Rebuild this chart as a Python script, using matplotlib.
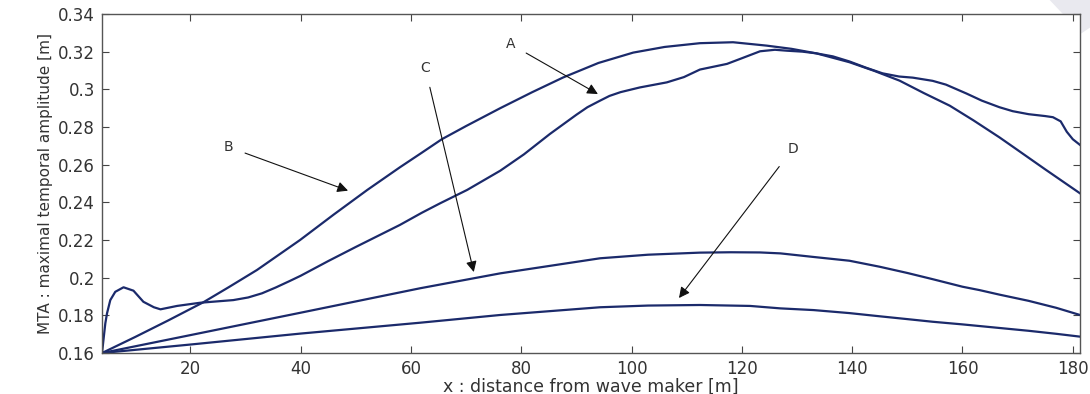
import matplotlib
matplotlib.use("Agg")
import matplotlib.pyplot as plt
from matplotlib.patches import Polygon

# distance from wave maker [m] and maximal temporal amplitude [m] for each case
x_a = [4.0, 4.3, 4.6, 4.9, 5.5, 6.4, 7.9, 9.7, 11.5, 13.4, 14.6, 17.6, 21.8, 27.8,
       30.5, 33.0, 35.5, 38.0, 40.0, 45.0, 50.0, 58.0, 62.0, 65.3, 70.2, 76.2,
       80.5, 85.2, 90.0, 92.0, 94.3, 96.0, 98.0, 101.5, 106.4, 109.5, 112.4,
       117.3, 120.0, 123.3, 126.0, 128.2, 131.0, 133.5, 136.5, 139.5, 142.5,
       145.5, 148.5, 151.0, 154.6, 157.0, 160.7, 163.5, 166.7, 169.1, 172.0,
       175.0, 176.4, 177.8, 178.9, 180.0, 181.3]
y_a = [0.160, 0.168, 0.1758, 0.181, 0.1881, 0.1925, 0.1949, 0.1931, 0.1872, 0.1843,
       0.1832, 0.1850, 0.1867, 0.1881, 0.1895, 0.1917, 0.1948, 0.1982, 0.2010,
       0.2088, 0.2163, 0.2280, 0.2345, 0.2395, 0.2466, 0.2568, 0.2655, 0.2763,
       0.2865, 0.2905, 0.2940, 0.2965, 0.2985, 0.3010, 0.3037, 0.3065, 0.3105,
       0.3135, 0.3165, 0.3202, 0.3210, 0.3205, 0.3200, 0.3191, 0.3175, 0.3148,
       0.3115, 0.3085, 0.3068, 0.3062, 0.3045, 0.3025, 0.2978, 0.2940, 0.2905,
       0.2884, 0.2868, 0.2858, 0.2852, 0.2830, 0.2775, 0.2735, 0.2705]

x_b = [4.0, 10.0, 16.0, 22.4, 27.0, 32.1, 39.9, 46.0, 52.1, 58.0, 62.0, 65.6, 70.0,
       76.2, 82.0, 87.6, 94.0, 100.3, 106.0, 112.4, 118.4, 124.5, 129.0, 133.5,
       139.5, 144.0, 148.6, 153.0, 157.7, 162.0, 166.7, 169.1, 175.0, 181.3]
y_b = [0.160, 0.1685, 0.1773, 0.1870, 0.1950, 0.2041, 0.2200, 0.2335, 0.2466, 0.2586,
       0.2664, 0.2735, 0.2805, 0.2900, 0.2985, 0.3063, 0.3140, 0.3195, 0.3225,
       0.3245, 0.3250, 0.3232, 0.3215, 0.3191, 0.3144, 0.3098, 0.3046, 0.2980,
       0.2913, 0.2835, 0.2745, 0.2696, 0.2575, 0.2448]

x_c = [4.0, 20.0, 40.0, 61.7, 76.2, 94.3, 103.0, 112.4, 118.0, 123.3, 127.0,
       133.0, 139.5, 145.0, 150.0, 154.6, 160.0, 163.1, 166.7, 172.0, 177.0, 181.3]
y_c = [0.160, 0.1695, 0.1814, 0.1944, 0.2023, 0.2103, 0.2122, 0.2133, 0.2135,
       0.2134, 0.2129, 0.2110, 0.2090, 0.2058, 0.2025, 0.1992, 0.1952, 0.1934,
       0.1910, 0.1877, 0.1840, 0.1802]

x_d = [4.0, 20.0, 39.9, 61.7, 76.2, 94.3, 103.0, 112.4, 121.5, 127.0, 133.0,
       139.5, 145.0, 150.0, 154.6, 160.0, 166.7, 172.0, 177.0, 181.3]
y_d = [0.160, 0.1645, 0.1703, 0.1761, 0.1802, 0.1843, 0.1852, 0.1855, 0.1850,
       0.1837, 0.1828, 0.1812, 0.1795, 0.1780, 0.1766, 0.1752, 0.1733, 0.1718,
       0.1702, 0.1687]

x_ticks = [20, 40, 60, 80, 100, 120, 140, 160, 180]
y_ticks = [0.16, 0.18, 0.20, 0.22, 0.24, 0.26, 0.28, 0.30, 0.32, 0.34]
y_tick_labels = ["0.16", "0.18", "0.2", "0.22", "0.24", "0.26", "0.28", "0.3", "0.32", "0.34"]

# curve labels: (text, label position, arrow tip)
labels = [
    ("A", (78.0, 0.3241), (93.9, 0.2975)),
    ("B", (26.9, 0.2694), (48.6, 0.2462)),
    ("C", (62.6, 0.3113), (71.4, 0.2030)),
    ("D", (129.2, 0.2683), (108.6, 0.1892)),
]

line_color = "#1b2a6b"
text_color = "#333333"

plt.rcParams["font.family"] = ["DejaVu Sans"]

fig = plt.figure(figsize=(10.9, 3.94), dpi=100)
ax = fig.add_axes([0.0936, 0.104, 0.8972, 0.8605])

for xs, ys in [(x_a, y_a), (x_b, y_b), (x_c, y_c), (x_d, y_d)]:
    ax.plot(xs, ys, color=line_color, lw=1.6, solid_joinstyle="round")

for text, xy_text, xy_tip in labels:
    ax.annotate(text, xy=xy_tip, xytext=xy_text, ha="center", va="center",
                fontsize=10, color=text_color,
                arrowprops=dict(arrowstyle="-|>", color="#111111", lw=0.8,
                                mutation_scale=16, shrinkA=7, shrinkB=0))

ax.set_xlim(4, 181.3)
ax.set_ylim(0.16, 0.34)
ax.set_xticks(x_ticks)
ax.set_yticks(y_ticks)
ax.set_yticklabels(y_tick_labels)
ax.tick_params(direction="in", length=5, width=0.8, top=True, right=True,
               labelsize=12, colors="#444444", labelcolor=text_color, pad=5)
for side in ax.spines.values():
    side.set_color("#555555")
    side.set_linewidth(1.0)

ax.set_xlabel("x : distance from wave maker [m]", fontsize=12.5, color=text_color, labelpad=0)
ax.set_ylabel("MTA : maximal temporal amplitude [m]", fontsize=11, color=text_color, labelpad=4)

# faint grey band in the top right corner
fig.patches.append(Polygon([[0.963, 1.0], [1.0, 1.0], [1.0, 0.93], [0.992, 0.915]],
                           closed=True, transform=fig.transFigure,
                           facecolor="#e9e9ef", edgecolor="none", zorder=-1))

fig.savefig("out.png", dpi=100)
